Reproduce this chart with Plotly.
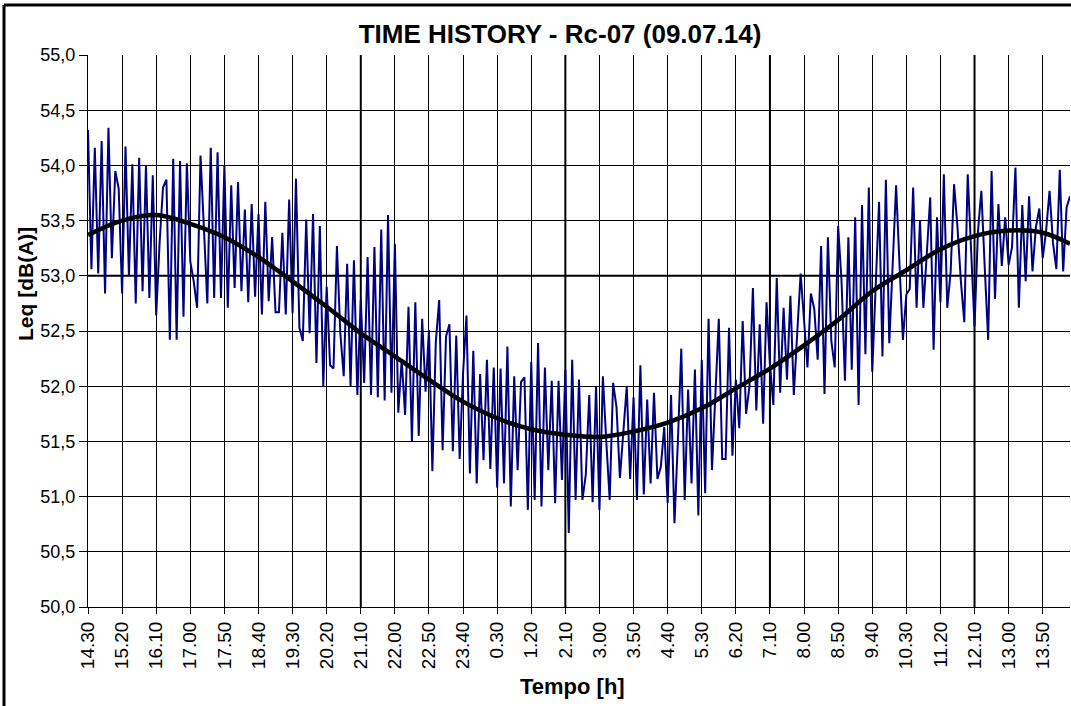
import plotly.graph_objects as go

# Leq samples every 5 minutes, from 14:30 (09.07.14) to 14:30 of the next day
leq = [
    54.32, 53.06, 54.16, 53.02, 54.22, 52.84, 54.34, 53.16, 53.95, 53.79,
    52.84, 54.17, 53.00, 54.01, 52.75, 54.07, 52.86, 54.00, 52.80, 53.91,
    52.64, 53.30, 53.80, 53.87, 52.42, 54.06, 52.42, 54.04, 52.63, 54.02,
    53.13, 52.95, 52.71, 54.09, 53.43, 52.75, 54.16, 52.80, 54.12, 52.80,
    54.00, 52.71, 53.82, 52.89, 53.85, 52.86, 53.60, 52.76, 53.65, 52.81,
    53.56, 52.65, 53.67, 52.77, 53.35, 52.67, 52.67, 53.39, 52.65, 53.69,
    52.66, 53.88, 52.53, 52.41, 53.51, 52.48, 53.56, 52.21, 53.45, 52.00,
    52.90, 52.19, 52.16, 53.27, 52.48, 52.09, 53.11, 52.00, 53.14, 51.92,
    52.78, 52.03, 53.17, 51.92, 53.26, 51.90, 53.42, 51.87, 53.55, 51.94,
    53.29, 51.76, 52.24, 51.74, 52.72, 51.50, 52.76, 51.55, 52.61, 51.95,
    52.51, 51.23, 52.40, 52.78, 51.42, 52.45, 52.56, 51.41, 52.46, 51.34,
    52.12, 52.64, 51.21, 52.32, 51.12, 52.11, 51.33, 52.24, 51.25, 52.17,
    51.08, 52.16, 51.12, 52.36, 50.91, 52.09, 51.24, 52.04, 52.08, 50.88,
    52.22, 50.97, 52.39, 50.91, 52.17, 51.24, 52.05, 50.94, 52.05, 51.15,
    52.15, 50.67, 52.24, 50.97, 52.06, 50.97, 51.20, 51.92, 50.95, 52.00,
    50.88, 52.09, 51.50, 50.97, 52.03, 51.81, 51.17, 51.63, 52.00, 51.16,
    51.90, 50.97, 52.19, 51.02, 51.88, 51.12, 51.94, 51.16, 51.27, 51.63,
    50.94, 51.92, 50.76, 51.50, 52.34, 50.97, 51.97, 51.12, 52.15, 50.83,
    52.24, 51.03, 52.61, 51.24, 52.00, 52.61, 51.34, 51.34, 52.53, 51.37,
    52.06, 51.62, 52.59, 51.75, 52.00, 52.89, 51.78, 52.56, 51.66, 52.76,
    52.20, 51.83, 52.98, 51.94, 52.71, 52.06, 52.82, 51.92, 52.48, 53.02,
    52.60, 52.17, 52.84, 52.70, 52.24, 53.27, 51.93, 53.35, 52.41, 52.17,
    53.45, 52.95, 52.05, 53.35, 52.15, 53.53, 51.83, 53.64, 52.29, 53.80,
    52.13, 52.89, 53.67, 52.27, 53.87, 52.39, 53.04, 53.82, 53.10, 52.42,
    52.83, 52.88, 53.80, 52.71, 53.50, 52.71, 53.20, 53.71, 52.33, 53.53,
    52.76, 53.92, 52.71, 53.04, 53.83, 53.44, 52.95, 52.58, 53.92, 53.20,
    52.54, 53.40, 53.77, 53.07, 52.42, 53.95, 52.79, 53.65, 53.09, 53.53,
    53.10, 53.26, 53.98, 52.71, 53.64, 52.95, 53.72, 53.04, 53.44, 53.61,
    53.16, 53.41, 53.77, 53.30, 53.06, 53.96, 53.04, 53.62, 53.72,
]

# Category labels, one every 10 samples (50 minutes)
time_labels = [
    "14.30", "15.20", "16.10", "17.00", "17.50", "18.40", "19.30", "20.20",
    "21.10", "22.00", "22.50", "23.40", "0.30", "1.20", "2.10", "3.00",
    "3.50", "4.40", "5.30", "6.20", "7.10", "8.00", "8.50", "9.40",
    "10.30", "11.20", "12.10", "13.00", "13.50",
]

# Smoothed trend of the daily level (sample index, dB(A))
trend_idx = [0, 10, 20, 30, 40, 50, 60, 70, 80, 90, 100, 110, 120, 130, 140,
             150, 160, 170, 180, 190, 200, 210, 220, 230, 240, 250, 260, 270,
             280, 288]
trend_val = [53.37, 53.50, 53.55, 53.47, 53.35, 53.17, 52.95, 52.72, 52.48,
             52.27, 52.06, 51.86, 51.71, 51.61, 51.56, 51.54, 51.59, 51.67,
             51.80, 51.98, 52.16, 52.37, 52.60, 52.86, 53.05, 53.24, 53.36,
             53.41, 53.39, 53.29]

y_ticks = [50.0, 50.5, 51.0, 51.5, 52.0, 52.5, 53.0, 53.5, 54.0, 54.5, 55.0]
y_labels = ["50,0", "50,5", "51,0", "51,5", "52,0", "52,5", "53,0", "53,5",
            "54,0", "54,5", "55,0"]

FONT = "Liberation Sans, Arial, sans-serif"
W, H = 1071, 706
L, R, T, B = 88, 1, 55, 99

n = len(leq)
x_idx = list(range(n))
tick_pos = list(range(0, n, 10))
last = n - 1

fig = go.Figure()
fig.add_trace(go.Scatter(x=x_idx, y=leq, mode="lines",
                         line=dict(color="#000080", width=2),
                         hoverinfo="skip", showlegend=False))
fig.add_trace(go.Scatter(x=trend_idx, y=trend_val, mode="lines",
                         line=dict(color="black", width=4.5, shape="spline"),
                         hoverinfo="skip", showlegend=False))

# heavier grid lines every 5 hours and at 53,0
shapes = []
for p in tick_pos[8::6]:
    shapes.append(dict(type="line", xref="x", yref="y", x0=p, x1=p,
                       y0=y_ticks[0], y1=y_ticks[-1], layer="below",
                       line=dict(color="black", width=2)))
shapes.append(dict(type="line", xref="x", yref="y", x0=0, x1=last,
                   y0=y_ticks[6], y1=y_ticks[6], layer="below",
                   line=dict(color="black", width=2)))

# outer chart frame (left and top edges)
pw = W - L - R
ph = H - T - B
fx = (4 - L) / pw
fy = (H - B - 5) / ph
shapes.append(dict(type="line", xref="paper", yref="paper", x0=fx, x1=fx,
                   y0=-0.3, y1=fy, line=dict(color="black", width=3)))
shapes.append(dict(type="line", xref="paper", yref="paper", x0=fx, x1=1.05,
                   y0=fy, y1=fy, line=dict(color="black", width=3)))

fig.update_layout(
    width=W, height=H,
    margin=dict(l=L, r=R, t=T, b=B),
    paper_bgcolor="white", plot_bgcolor="white",
    font=dict(family=FONT, color="black"),
    title=dict(text="<b>TIME HISTORY - Rc-07 (09.07.14)</b>",
               font=dict(family=FONT, size=26, color="black"),
               x=(560 - L) / pw, xref="paper", xanchor="center",
               y=1 - 34 / H, yref="container", yanchor="middle"),
    shapes=shapes,
    annotations=[
        dict(text="<b>Leq [dB(A)]</b>", xref="paper", yref="paper",
             x=(25 - L) / pw, y=(H - B - 284) / ph, showarrow=False,
             textangle=-90, font=dict(family=FONT, size=21, color="black"),
             xanchor="center", yanchor="middle"),
        dict(text="<b>Tempo [h]</b>", xref="paper", yref="paper",
             x=(572 - L) / pw, y=(H - B - 686) / ph, showarrow=False,
             font=dict(family=FONT, size=22, color="black"),
             xanchor="center", yanchor="middle"),
    ],
)

fig.update_xaxes(
    range=[0, last], tickmode="array", tickvals=tick_pos, ticktext=time_labels,
    tickangle=-90, ticks="outside", ticklen=6, tickcolor="black",
    tickfont=dict(family=FONT, size=19, color="black"),
    showgrid=True, gridcolor="black", gridwidth=1,
    showline=True, linecolor="black", linewidth=1, zeroline=False,
)
fig.update_yaxes(
    range=[y_ticks[0], y_ticks[-1]], tickmode="array", tickvals=y_ticks,
    ticktext=y_labels, ticks="outside", ticklen=8, tickcolor="black",
    tickfont=dict(family=FONT, size=18, color="black"),
    showgrid=False,
    minor=dict(tickmode="array", tickvals=y_ticks[1:-1], showgrid=True,
               gridcolor="black", gridwidth=1, ticks=""),
    showline=True, linecolor="black", linewidth=1, zeroline=False,
)

fig.write_html("out.html")
